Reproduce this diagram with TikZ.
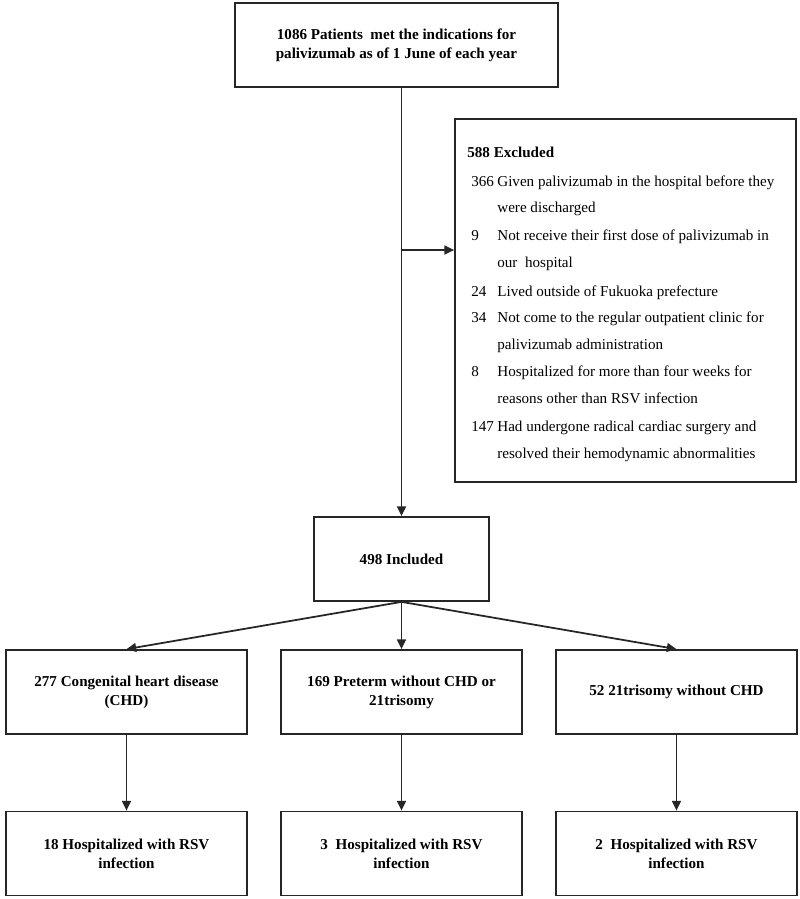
\documentclass[tikz,border=0pt]{standalone}
\usepackage{fontspec}
\setmainfont{Liberation Serif}
\usepackage{tikz}
\usetikzlibrary{arrows.meta, positioning}
\definecolor{linegray}{HTML}{262626}

\begin{document}
\begin{tikzpicture}[
    x=0.02cm, y=-0.02cm,
    box/.style={
        draw=linegray,
        line width=1pt,
        minimum height=1.68cm,
        inner sep=0pt,
        align=center,
        font=\fontsize{8.6}{10.8}\selectfont\bfseries
    },
    header/.style={
        anchor=base west,
        inner sep=0pt,
        font=\fontsize{8.6}{10.8}\selectfont\bfseries
    },
    item/.style={
        anchor=base west,
        inner sep=0pt,
        font=\fontsize{8.6}{10.8}\selectfont
    },
    link/.style={
        draw=linegray,
        line width=1pt,
        -{Triangle[length=5.5pt,width=5pt]}
    }
]

\useasboundingbox (0,0) rectangle (800,899);

% Patients box (top)
\node[box, minimum width=6.46cm] (pat) at (396.5,45) {1086 Patients\ \ met the indications for\\palivizumab as of 1 June of each year};

% Excluded box (right)
\node[box, minimum width=6.82cm, minimum height=7.26cm] (excl) at (625.5,300.5) {};
\node[header] (exhead) at (467,157) {588 Excluded};

\node[item] (n1) at (471,186) {366};
\node[item] (t1) at (497,186) {Given palivizumab in the hospital before they};
\node[item] (t1b) at (497,212) {were discharged};
\node[item] (n2) at (471,240) {9};
\node[item] (t2) at (497,240) {Not receive their first dose of palivizumab in};
\node[item] (t2b) at (497,267) {our\ \ hospital};
\node[item] (n3) at (471,296) {24};
\node[item] (t3) at (497,296) {Lived outside of Fukuoka prefecture};
\node[item] (n4) at (471,322) {34};
\node[item] (t4) at (497,322) {Not come to the regular outpatient clinic for};
\node[item] (t4b) at (497,349) {palivizumab administration};
\node[item] (n5) at (471,376) {8};
\node[item] (t5) at (497,376) {Hospitalized for more than four weeks for};
\node[item] (t5b) at (497,403) {reasons other than RSV infection};
\node[item] (n6) at (471,431) {147};
\node[item] (t6) at (497,431) {Had undergone radical cardiac surgery and};
\node[item] (t6b) at (497,458) {resolved their hemodynamic abnormalities};

% Included box
\node[box, minimum width=3.5cm] (incl) at (401.5,559) {498 Included};

% Group boxes
\node[box, minimum width=4.82cm] (chd) at (126.5,692) {277 Congenital heart disease\\(CHD)};
\node[box, minimum width=4.82cm] (pre) at (401.5,692) {169 Preterm without CHD or\\21trisomy};
\node[box, minimum width=4.82cm] (tri) at (676.5,692) {52 21trisomy without CHD};

% Outcome boxes
\node[box, minimum width=4.82cm] (hchd) at (126.5,853.5) {18 Hospitalized with RSV\\infection};
\node[box, minimum width=4.82cm] (hpre) at (401.5,853.5) {3\ \ Hospitalized with RSV\\infection};
\node[box, minimum width=4.82cm] (htri) at (676.5,853.5) {2\ \ Hospitalized with RSV\\infection};

% Connectors
\coordinate (split) at (incl.north |- 0,250);
\draw[link] (incl.north |- pat.south) -- (incl.north);
\draw[link] (split) -- (split -| excl.west);

\draw[link] (incl.south) -- (chd.north);
\draw[link] (incl.south) -- (pre.north);
\draw[link] (incl.south) -- (tri.north);

\draw[link] (chd.south) -- (hchd.north);
\draw[link] (pre.south) -- (hpre.north);
\draw[link] (tri.south) -- (htri.north);

\end{tikzpicture}
\end{document}
